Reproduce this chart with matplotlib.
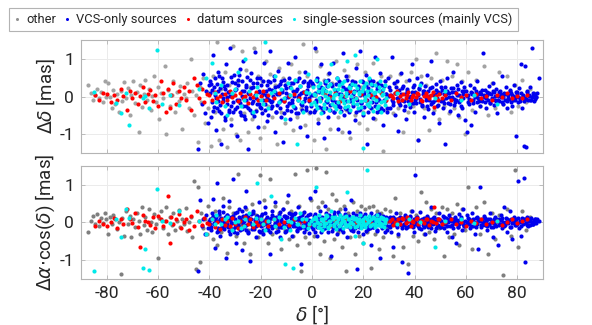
import matplotlib
matplotlib.use("Agg")
import matplotlib.pyplot as plt
from matplotlib.lines import Line2D

plt.rcParams['font.family'] = ['Roboto', 'DejaVu Sans']
plt.rcParams['mathtext.fontset'] = 'dejavusans'

categories = ["other", "VCS-only sources", "datum sources", "single-session sources (mainly VCS)"]
colors_top = ["#a3a3a3", "#0000ee", "#ff0000", "#00eaea"]
colors_bottom = ["#7f7f7f", "#0000ee", "#ff0000", "#00eaea"]
legend_colors = ["#909090", "#0000ee", "#ff0000", "#00eaea"]
x_ticks = [-80, -60, -40, -20, 0, 20, 40, 60, 80]
y_ticks = [-1, 0, 1]

# (declination [deg], delta_dec [mas], delta_ra*cos(dec) [mas])
other_pts = [
(-87.5,0.30,-0.25),(-86.0,0.10,0.05),(-85.2,-0.10,0.18),(-84.5,0.05,-0.05),(-83.8,0.20,0.22),(-83.0,-0.05,-0.10),(-82.3,0.12,0.12),(-81.5,-0.15,-0.02),(-80.8,0.42,0.25),(-80.2,-0.02,0.08),(-79.5,0.35,-0.30),(-78.8,0.00,0.15),(-78.0,-0.30,-0.05),(-77.4,0.18,0.20),(-76.8,-0.20,0.10),(-76.0,0.08,-0.18),(-75.3,-0.40,0.02),(-74.6,0.15,-1.38),(-74.0,-0.12,0.12),(-73.2,0.38,-0.35),(-72.5,-0.05,0.30),(-71.8,0.22,-0.05),(-71.0,-0.50,0.18),(-70.4,0.05,-0.40),(-69.7,0.40,0.10),(-69.0,-0.18,-0.12),(-68.3,0.12,0.25),(-67.6,-0.95,0.05),(-67.0,0.30,-0.30),(-66.3,-0.28,0.40),(-65.6,0.08,-0.08),(-65.0,0.45,0.15),(-64.3,-0.10,-0.20),(-63.6,0.20,0.35),(-62.9,-0.35,0.02),(-62.2,0.02,-0.25),(-61.5,0.55,0.22),(-60.9,-0.15,-0.05),(-60.2,0.25,-0.95),(-59.5,-0.60,0.12),(-58.8,0.10,0.30),(-58.1,-0.05,-0.15),(-57.4,0.80,0.05),(-56.8,-1.00,0.40),(-56.1,0.18,-0.30),(-55.4,-0.25,0.15),(-54.7,0.05,-0.08),(-54.0,0.40,0.25),(-53.4,-0.40,-0.20),(-52.7,0.12,0.05),(-52.0,-0.12,0.32),(-51.3,0.28,-0.12),(-50.6,-0.85,0.10),(-50.0,0.08,-0.05),(-49.3,-0.05,0.38),(-48.6,0.35,-0.22),(-47.9,-0.30,0.02),(-47.2,1.00,0.15),(-46.6,0.15,-0.40),(-45.9,-0.50,1.10),(-45.2,0.05,-1.25),(-44.5,-1.20,0.95),(-43.8,0.25,-1.05),(-43.1,-0.15,0.25),(-42.4,0.48,-0.15),(-41.7,-0.70,0.08),(-41.0,0.12,-0.30),(-40.4,-0.30,0.45),
(-39.5,-1.30,0.10),(-38.7,0.55,-0.45),(-37.8,-0.40,0.30),(-37.0,1.45,-0.60),(-36.2,-1.15,0.20),(-35.4,0.20,-0.25),(-34.6,-0.85,0.65),(-33.8,0.65,-0.10),(-33.0,-1.35,-0.80),(-32.2,0.30,0.40),(-31.4,-0.60,-0.15),(-30.6,1.35,0.25),(-29.8,-1.00,-0.35),(-29.0,0.40,1.30),(-28.2,-1.15,-0.05),(-27.4,1.20,0.15),(-26.6,-0.45,-0.55),(-25.8,0.70,0.35),(-25.0,-0.95,-0.20),(-24.2,0.25,-0.85),(-23.4,-0.60,0.50),(-22.6,1.30,-0.10),(-21.8,-0.35,0.20),(-21.0,0.55,-0.40),(-20.2,-1.10,1.25),(-19.4,0.40,-0.25),(-18.6,-0.80,0.60),(-17.8,0.95,0.10),(-17.0,-0.25,-0.55),(-16.2,0.60,1.15),(-15.4,-0.55,-0.30),(-14.6,0.30,0.45),(-13.8,-1.25,-0.15),(-13.0,0.75,0.25),(-12.2,-0.40,-0.70),(-11.4,0.50,0.35),(-10.6,-0.70,-0.20),(-9.8,0.35,0.55),(-9.0,-0.20,-0.45),(-8.2,0.85,0.30),(-7.4,-0.90,-0.35),(-6.6,0.45,1.30),(-5.8,-0.55,-0.60),(-5.0,0.65,0.45),(-4.2,-0.30,-1.30),(-3.4,1.40,0.25),(-2.6,-0.75,-0.40),(-1.8,0.55,1.40),(-1.0,-0.45,-0.55),(-0.2,0.30,0.60),(0.6,-1.15,-0.35),(1.4,1.20,1.45),(2.2,-0.60,0.40),(3.0,0.80,-0.85),(3.8,-0.35,0.55),(4.6,0.45,-0.50),(5.4,-1.40,1.35),(6.2,0.60,0.35),(7.0,-0.85,-0.95),(7.8,0.35,0.75),(8.6,-0.25,-0.45),(9.4,0.95,0.60),(10.2,-0.55,-0.25),(11.0,0.30,0.35),(11.8,-0.95,-0.65),(12.6,0.70,0.45),(13.4,-0.35,-1.30),(14.2,0.55,0.25),(15.0,-1.10,-0.40),(15.8,0.40,0.55),(16.6,-0.50,-0.85),(17.4,0.85,0.30),(18.2,-0.70,-0.35),(19.0,0.25,0.45),(19.8,-0.40,-0.55),(20.6,0.65,0.35),(21.4,-0.85,-0.25),(22.2,0.45,0.40),(23.0,-0.30,-1.20),(23.8,0.90,0.45),(24.6,-0.60,-0.30),(25.4,0.35,0.30),(26.2,-0.25,-0.70),(27.0,0.55,0.25),(27.8,-1.45,-0.40),(28.6,0.40,0.35),(29.4,-0.35,-0.15),
(30.5,0.55,0.30),(31.5,-0.45,-0.90),(32.5,0.35,0.65),(33.5,-0.30,-0.35),(34.5,0.60,0.25),(35.5,-0.95,-0.65),(36.5,0.40,0.15),(37.5,-0.40,-1.10),(38.5,0.65,0.30),(39.5,-0.25,-0.35),(40.5,1.00,0.20),(41.5,-1.15,-0.50),(42.5,0.55,0.80),(43.5,-0.30,-0.30),(44.5,0.30,0.55),(45.5,-0.90,-0.25),(46.5,0.50,0.35),(47.5,-0.35,-0.45),(48.5,1.15,0.25),(49.5,-0.60,-0.15),(50.5,0.45,0.40),(51.5,-0.25,-0.90),(52.5,0.95,0.35),(53.5,-0.45,-0.40),(54.5,0.55,0.25),(55.5,-0.30,-0.30),(56.5,0.85,0.50),(57.5,-0.55,-0.60),(58.5,0.40,0.35),(59.5,-1.00,-0.20),(61.0,0.65,0.95),(62.5,-0.35,-0.70),(64.0,0.45,0.40),(65.5,-0.25,-0.30),(67.0,0.80,0.55),(68.5,-0.50,-0.85),(70.0,0.35,0.25),(71.5,-0.30,-0.45),(73.0,0.65,0.20),(74.5,-0.20,-1.40),(76.0,0.55,0.35),(77.5,-0.40,-0.35),(79.0,0.30,1.40),(80.5,-0.25,-0.65),(82.0,0.45,0.30),(83.5,-0.15,-0.20),(85.0,0.20,0.15),(86.5,0.10,0.05),
]

vcs_pts = [
(-44.5,-1.40,-1.30),(-43.8,0.35,0.60),(-43.0,-0.20,-0.10),(-42.4,0.60,0.10),(-41.7,-0.45,-0.30),(-41.2,0.15,0.20),(-40.6,-0.70,-0.15),(-40.2,0.30,0.05),
(-39.8,0.42,0.08),(-39.4,-0.55,-0.12),(-39.0,0.18,0.25),(-38.7,1.10,0.62),(-38.3,-0.28,-0.05),(-37.9,0.05,-0.68),(-37.6,-0.90,0.15),(-37.2,0.33,1.05),(-36.8,-0.12,-0.22),(-36.5,0.65,0.04),(-36.1,-0.38,0.30),(-35.8,0.22,-0.35),(-35.4,-1.25,0.11),(-35.0,0.50,-0.08),(-34.7,-0.05,0.45),(-34.3,0.28,-0.18),(-33.9,-0.62,0.02),(-33.6,0.85,-0.95),(-33.2,-0.20,0.20),(-32.8,0.12,-0.12),(-32.5,-0.40,0.58),(-32.1,1.30,0.07),(-31.8,0.02,-0.30),(-31.4,-0.75,0.15),(-31.0,0.38,-0.02),(-30.7,-0.15,1.15),(-30.3,0.58,-0.25),(-30.0,-0.32,0.10),(-29.6,0.20,-0.55),(-29.2,-1.05,0.28),(-28.9,0.45,-0.10),(-28.5,-0.08,0.35),(-28.1,0.72,-0.15),(-27.8,-0.48,0.05),(-27.4,0.15,-0.72),(-27.0,-0.25,0.18),(-26.7,0.95,-0.05),(-26.3,-0.60,0.40),(-25.9,0.30,-0.20),(-25.6,-0.10,0.85),(-25.2,0.52,0.12),(-24.8,-1.38,-0.28),(-24.5,0.08,0.03),(-24.1,-0.35,-1.02),(-23.7,0.62,0.22),(-23.4,-0.18,-0.08),(-23.0,0.25,0.30),(-22.6,-0.52,-0.18),(-22.3,1.18,0.09),(-21.9,-0.05,-0.40),(-21.5,0.35,0.16),(-21.2,-0.82,-0.02),(-20.8,0.12,0.55),(-20.4,-0.28,-0.25),(-20.1,0.48,0.06),
(-39.6,0.10,-0.05),(-38.9,-0.15,0.12),(-38.1,0.25,-0.02),(-37.4,-0.05,0.05),(-36.6,0.15,-0.15),(-35.9,-0.22,0.08),(-35.2,0.08,0.00),(-34.5,-0.12,-0.10),(-33.8,0.20,0.15),(-33.0,-0.02,-0.05),(-32.3,0.12,0.10),(-31.6,-0.25,-0.02),(-30.9,0.05,0.18),(-30.2,0.18,-0.12),(-29.4,-0.10,0.02),(-28.7,0.30,-0.08),(-28.0,-0.18,0.10),(-27.2,0.02,-0.18),(-26.5,0.14,0.05),(-25.8,-0.25,-0.06),(-25.0,0.10,0.14),(-24.3,-0.05,-0.02),(-23.6,0.22,0.08),(-22.9,-0.12,-0.12),(-22.1,0.05,0.03),(-21.4,-0.20,0.12),(-20.6,0.15,-0.05),
(-39.2,0.32,-0.20),(-38.5,-0.38,0.18),(-37.7,0.48,0.10),(-36.9,-0.30,-0.25),(-36.1,0.55,0.22),(-35.3,-0.45,-0.15),(-34.6,0.38,0.28),(-33.8,-0.55,-0.08),(-33.1,0.30,0.20),(-32.4,-0.35,-0.22),(-31.7,0.52,0.12),(-30.9,-0.42,-0.18),(-30.1,0.35,0.25),(-29.4,-0.28,-0.28),(-28.6,0.58,0.15),(-27.9,-0.40,-0.20),(-27.1,0.42,0.30),(-26.4,-0.52,-0.12),(-25.7,0.25,0.20),(-24.9,-0.30,-0.25),(-24.2,0.45,0.10),(-23.5,-0.45,-0.18),(-22.8,0.35,0.25),(-22.0,-0.38,-0.10),(-21.3,0.50,0.18),(-20.5,-0.20,-0.22),
(-19.8,0.30,-0.10),(-19.4,-0.45,0.22),(-19.0,0.10,-0.30),(-18.7,0.88,0.05),(-18.3,-0.20,0.40),(-17.9,0.05,-0.05),(-17.6,-0.65,0.15),(-17.2,0.40,-0.20),(-16.8,-0.08,0.02),(-16.5,1.20,-0.85),(-16.1,-0.30,0.12),(-15.7,0.18,0.30),(-15.4,-0.12,-0.15),(-15.0,0.55,0.08),(-14.6,-0.95,-0.02),(-14.3,0.25,0.55),(-13.9,-0.40,-0.25),(-13.5,0.08,0.10),(-13.2,0.68,-0.05),(-12.8,-0.15,0.20),(-12.4,0.32,-0.40),(-12.1,-0.55,0.05),(-11.7,0.12,-0.12),(-11.3,-1.20,0.35),(-11.0,0.45,-0.08),(-10.6,-0.05,0.18),(-10.2,0.22,-0.22),(-9.9,-0.35,0.00),(-9.5,0.90,0.72),(-9.1,-0.18,-0.15),(-8.8,0.05,0.25),(-8.4,-0.60,-0.05),(-8.0,0.35,0.12),(-7.7,-0.10,-0.35),(-7.3,0.15,0.05),(-6.9,-0.28,0.22),(-6.6,1.05,-0.10),(-6.2,-0.45,0.08),(-5.8,0.20,-0.20),(-5.5,-0.02,0.40),(-5.1,0.50,-0.02),(-4.7,-0.80,0.15),(-4.4,0.10,-1.10),(-4.0,-0.22,0.05),(-3.6,0.38,-0.12),(-3.3,-0.12,0.28),(-2.9,0.65,0.02),(-2.5,-0.35,-0.18),(-2.2,0.08,0.10),(-1.8,-1.05,-0.05),(-1.4,0.28,0.20),(-1.1,-0.05,-0.28),(-0.7,0.42,0.65),(-0.3,-0.25,0.02),
(-19.6,0.05,0.02),(-18.9,-0.10,-0.08),(-18.1,0.15,0.10),(-17.4,-0.05,-0.02),(-16.6,0.20,0.06),(-15.9,-0.15,-0.10),(-15.2,0.02,0.15),(-14.4,0.12,-0.05),(-13.7,-0.22,0.04),(-13.0,0.06,-0.12),(-12.2,-0.08,0.08),(-11.5,0.18,0.00),(-10.8,-0.12,-0.06),(-10.0,0.10,0.12),(-9.3,-0.02,-0.10),(-8.6,0.25,0.02),(-7.8,-0.18,0.14),(-7.1,0.02,-0.04),(-6.4,0.15,0.08),(-5.6,-0.10,-0.12),(-4.9,0.05,0.04),(-4.2,-0.20,0.10),(-3.4,0.12,-0.06),(-2.7,-0.05,0.02),(-2.0,0.18,-0.10),(-1.2,-0.12,0.06),(-0.5,0.04,-0.02),
(-19.9,-0.30,0.18),(-19.2,0.42,-0.20),(-18.4,-0.35,0.25),(-17.7,0.30,-0.15),(-17.0,-0.48,0.10),(-16.3,0.38,-0.25),(-15.5,-0.25,0.20),(-14.8,0.45,-0.10),(-14.1,-0.40,0.15),(-13.3,0.28,-0.22),(-12.6,-0.30,0.28),(-11.9,0.40,-0.12),(-11.1,-0.45,0.18),(-10.4,0.30,-0.25),(-9.7,-0.25,0.15),(-8.9,0.48,-0.18),(-8.2,-0.38,0.22),(-7.5,0.35,-0.10),(-6.7,-0.30,0.25),(-6.0,0.42,-0.22),(-5.3,-0.45,0.12),(-4.6,0.28,-0.15),(-3.8,-0.35,0.20),(-3.1,0.40,-0.25),(-2.4,-0.28,0.15),(-1.6,0.35,-0.12),(-0.9,-0.42,0.22),
(0.2,0.35,-0.12),(0.6,-0.42,0.18),(1.0,0.10,-0.25),(1.3,1.30,0.85),(1.7,-0.15,0.05),(2.1,0.50,-0.35),(2.4,-0.70,0.10),(2.8,0.22,-0.02),(3.2,-0.05,0.30),(3.5,0.85,-0.08),(3.9,-0.30,0.15),(4.3,0.15,-0.18),(4.6,-1.10,0.02),(5.0,0.40,0.45),(5.4,-0.12,-0.10),(5.7,0.28,0.08),(6.1,-0.55,-0.25),(6.5,0.05,0.20),(6.8,0.62,-0.05),(7.2,-0.22,0.12),(7.6,0.32,-0.88),(7.9,-0.08,0.02),(8.3,0.90,-0.15),(8.7,-0.40,0.28),(9.0,0.18,-0.05),(9.4,-0.15,0.10),(9.8,0.48,-0.30),(10.1,-0.85,0.05),(10.5,0.08,0.22),(10.9,-0.28,-0.12),(11.2,0.36,0.02),(11.6,-0.02,-0.20),(12.0,1.15,0.15),(12.3,-0.50,-0.02),(12.7,0.20,0.35),(13.1,-0.12,-0.08),(13.4,0.55,0.10),(13.8,-0.32,-0.40),(14.2,0.10,0.05),(14.5,-0.95,0.18),(14.9,0.30,-0.15),(15.3,-0.05,0.60),(15.6,0.42,0.00),(16.0,-0.20,-0.22),(16.4,0.15,0.12),(16.7,-0.62,-0.05),(17.1,0.75,0.20),(17.5,-0.10,-1.25),(17.8,0.25,0.08),(18.2,-0.35,-0.12),(18.6,0.05,0.25),(18.9,1.22,-0.02),(19.3,-0.18,0.15),(19.7,0.38,-0.30),(20.0,-0.48,0.05),(20.4,0.12,-0.10),(20.8,-0.08,0.22),(21.1,0.58,-0.05),(21.5,-1.25,0.10),(21.9,0.22,-0.18),(22.2,-0.25,0.02),(22.6,0.45,0.18),(23.0,-0.02,-0.60),(23.3,0.30,0.05),(23.7,-0.58,-0.12),(24.1,0.10,0.14),(24.4,1.05,-0.02),(24.8,-0.15,0.20),(25.2,0.20,-0.22),(25.5,-0.42,0.08),(25.9,0.35,-0.05),(26.3,-0.08,0.12),(26.6,0.62,-0.95),(27.0,-0.30,0.02),(27.4,0.15,-0.15),(27.7,-0.75,0.10),(28.1,0.28,0.05),(28.5,-0.12,-0.08),(28.8,0.08,0.15),(29.2,-0.40,-0.20),(29.6,0.50,0.03),
(0.4,0.05,0.02),(1.5,-0.10,-0.06),(2.6,0.12,0.08),(3.7,-0.05,-0.04),(4.8,0.18,0.10),(5.9,-0.15,-0.02),(7.0,0.02,0.06),(8.1,-0.08,-0.10),(9.2,0.14,0.00),(10.3,-0.20,0.08),(11.4,0.06,-0.05),(12.5,-0.02,0.12),(13.6,0.20,-0.08),(14.7,-0.12,0.04),(15.8,0.08,-0.12),(16.9,-0.05,0.05),(18.0,0.16,0.10),(19.1,-0.18,-0.04),(20.2,0.04,0.08),(21.3,-0.08,-0.10),(22.4,0.12,0.02),(23.5,-0.15,0.06),(24.6,0.02,-0.06),(25.7,-0.06,0.10),(26.8,0.15,-0.02),(27.9,-0.10,0.04),(29.0,0.06,-0.08),
(0.5,0.30,-0.18),(1.2,-0.35,0.22),(2.0,0.40,-0.12),(2.7,-0.28,0.18),(3.4,0.25,-0.25),(4.2,-0.40,0.12),(4.9,0.35,-0.15),(5.6,-0.30,0.25),(6.3,0.45,-0.10),(7.1,-0.35,0.15),(7.8,0.28,-0.22),(8.5,-0.42,0.20),(9.3,0.32,-0.12),(10.0,-0.25,0.28),(10.7,0.40,-0.18),(11.5,-0.38,0.10),(12.2,0.25,-0.25),(12.9,-0.30,0.22),(13.7,0.45,-0.10),(14.4,-0.42,0.15),(15.1,0.30,-0.20),(15.9,-0.25,0.25),(16.6,0.38,-0.15),(17.3,-0.40,0.12),(18.1,0.28,-0.25),(18.8,-0.32,0.20),(19.5,0.42,-0.10),(20.3,-0.28,0.18),(21.0,0.30,-0.22),(21.7,-0.42,0.12),(22.5,0.35,-0.15),(23.2,-0.30,0.25),(23.9,0.40,-0.12),(24.7,-0.25,0.15),(25.4,0.28,-0.20),(26.1,-0.38,0.22),(26.9,0.30,-0.10),(27.6,-0.35,0.18),(28.3,0.42,-0.25),(29.1,-0.30,0.12),
(30.0,0.25,-0.10),(30.4,-0.30,0.15),(30.8,0.05,-0.25),(31.1,1.05,0.05),(31.5,-0.15,-0.65),(31.9,0.35,0.10),(32.2,-0.50,-0.02),(32.6,0.10,0.25),(33.0,-0.05,-0.12),(33.3,0.40,0.08),(33.7,-0.92,-0.30),(34.1,0.18,0.02),(34.4,-0.22,0.15),(34.8,0.62,-0.08),(35.2,-0.08,-1.05),(35.5,0.28,0.12),(35.9,-0.35,-0.05),(36.3,0.08,0.20),(36.6,-0.60,-0.15),(37.0,0.20,0.05),(37.4,-0.12,-1.35),(37.7,0.45,-0.10),(38.1,-0.28,0.18),(38.5,0.02,-0.02),(38.8,0.85,0.30),(39.2,-0.18,-0.12),(39.6,0.30,0.08),(39.9,-0.40,-0.25),(40.3,0.12,1.25),(40.7,-0.05,-0.05),(41.0,0.50,0.15),(41.4,-1.15,-0.10),(41.8,0.22,0.02),(42.1,-0.15,0.28),(42.5,0.35,-0.18),(42.9,-0.25,0.05),(43.2,0.08,-0.08),(43.6,-0.55,0.12),(44.0,0.28,-0.30),(44.3,-0.02,0.02),(44.7,0.58,0.18),(45.1,-0.32,-0.12),(45.4,0.15,0.05),(45.8,-0.10,-0.02),(46.2,0.95,0.40),(46.5,-0.20,-0.15),(46.9,0.25,0.08),(47.3,-0.45,-0.05),(47.6,0.05,0.15),(48.0,-0.08,-0.22),(48.4,0.32,0.02),(48.7,-0.25,0.10),(49.1,0.12,-0.08),(49.5,-0.70,0.25),(49.8,0.40,-0.12),(50.2,-0.12,0.05),(50.6,0.18,-0.02),(50.9,-0.30,0.18),(51.3,0.08,-0.15),(51.7,-1.25,0.08),(52.0,0.25,-0.05),(52.4,-0.05,0.12),(52.8,0.48,-0.25),(53.1,-0.18,0.02),(53.5,0.10,0.20),(53.9,-0.38,-0.10),(54.2,0.22,0.05),(54.6,-0.02,-0.40),(55.0,0.65,0.10),(55.3,-0.22,-0.02),(55.7,0.12,0.15),(56.1,-0.10,-0.55),(56.4,0.30,0.06),(56.8,-0.48,-0.12),(57.2,0.05,0.22),(57.5,-0.15,-0.05),(57.9,0.38,0.10),(58.3,-0.30,-0.20),(58.6,0.15,0.02),(59.0,-0.05,0.35),(59.4,0.25,-0.10),(59.7,-0.62,0.05),
(30.2,0.02,0.03),(31.3,-0.08,-0.05),(32.4,0.10,0.08),(33.5,-0.04,-0.02),(34.6,0.06,0.06),(35.7,-0.12,-0.08),(36.8,0.08,0.02),(37.9,-0.02,0.10),(39.0,0.12,-0.04),(40.1,-0.10,0.04),(41.2,0.04,-0.08),(42.3,-0.06,0.06),(43.4,0.14,0.00),(44.5,-0.08,-0.06),(45.6,0.02,0.08),(46.7,-0.14,-0.02),(47.8,0.08,0.04),(48.9,-0.04,-0.08),(50.0,0.10,0.06),(51.1,-0.10,-0.04),(52.2,0.06,0.02),(53.3,-0.02,0.08),(54.4,0.12,-0.06),(55.5,-0.06,0.04),(56.6,0.04,-0.02),(57.7,-0.10,0.06),(58.8,0.08,-0.04),
(30.6,0.18,-0.12),(31.7,-0.22,0.15),(32.8,0.25,-0.08),(33.9,-0.18,0.12),(35.0,0.22,-0.15),(36.1,-0.25,0.10),(37.2,0.15,-0.12),(38.3,-0.20,0.15),(39.4,0.25,-0.10),(40.5,-0.18,0.12),(41.6,0.20,-0.15),(42.7,-0.22,0.08),(43.8,0.15,-0.12),(44.9,-0.25,0.15),(46.0,0.22,-0.08),(47.1,-0.15,0.12),(48.2,0.18,-0.15),(49.3,-0.22,0.10),(50.4,0.25,-0.12),(51.5,-0.18,0.15),(52.6,0.15,-0.10),(53.7,-0.20,0.12),(54.8,0.22,-0.15),(55.9,-0.15,0.08),(57.0,0.20,-0.12),(58.1,-0.25,0.15),(59.2,0.15,-0.10),
(60.1,0.15,-0.08),(60.5,-0.95,0.20),(60.9,0.05,-0.02),(61.2,-0.20,0.10),(61.6,0.30,-0.15),(62.0,-0.75,0.05),(62.3,0.10,0.25),(62.7,-0.08,-0.10),(63.1,0.22,0.02),(63.4,-0.40,-0.30),(63.8,0.02,0.12),(64.2,-0.15,-0.05),(64.5,0.40,0.15),(64.9,-0.05,-0.70),(65.3,0.12,0.05),(65.6,-0.25,0.95),(66.0,0.08,-0.12),(66.4,-0.12,0.08),(66.7,1.15,-0.02),(67.1,-0.02,0.18),(67.5,0.18,-0.08),(67.8,-0.30,0.03),(68.2,0.05,-0.20),(68.6,-0.10,0.10),(68.9,0.28,-0.05),(69.3,-0.18,0.25),(69.7,0.08,-0.12),(70.0,-0.05,0.02),(70.4,0.35,-0.40),(70.8,-0.22,0.08),(71.1,0.12,-0.02),(71.5,-0.08,0.15),(71.9,0.20,-0.10),(72.2,-0.45,0.05),(72.6,0.02,-0.60),(73.0,-0.12,0.10),(73.3,0.15,-0.05),(73.7,-0.02,0.20),(74.1,0.55,-0.15),(74.4,-0.20,0.02),(74.8,0.08,0.40),(75.2,-0.10,-0.08),(75.5,0.25,0.12),(75.9,-0.30,-0.25),(76.3,0.05,0.05),(76.6,-0.05,-0.02),(77.0,0.18,0.30),(77.4,-0.15,-0.12),(77.7,0.10,0.08),(78.1,-0.25,-0.45),(78.5,0.02,0.02),(78.8,0.30,0.15),(79.2,-0.08,-0.08),(79.6,-1.05,0.10),(79.9,0.12,-0.02),(80.3,-0.02,1.10),(80.7,0.22,-0.15),(81.0,-0.12,0.05),(81.4,0.85,-0.35),(81.8,-0.30,0.12),(82.1,0.05,-0.05),(82.5,-1.30,1.18),(82.9,0.80,-1.05),(83.2,-0.05,0.08),(83.6,-1.35,-0.02),(84.0,0.15,0.15),(84.3,-0.10,-0.10),(84.7,0.02,0.05),(85.1,0.25,-0.08),(85.4,-0.08,0.12),(85.8,1.28,0.02),(86.2,0.05,-0.05),(86.5,-0.12,0.06),(86.9,0.08,0.10),(87.3,-0.02,-0.02),(87.7,0.10,0.08),(88.3,0.50,0.05),
(60.3,0.02,0.02),(61.4,-0.06,-0.04),(62.5,0.08,0.06),(63.6,-0.02,-0.02),(64.7,0.06,0.04),(65.8,-0.08,-0.06),(66.9,0.04,0.02),(68.0,-0.04,0.06),(69.1,0.10,-0.04),(70.2,-0.06,0.04),(71.3,0.02,-0.06),(72.4,-0.10,0.02),(73.5,0.06,0.06),(74.6,-0.02,-0.04),(75.7,0.08,0.02),(76.8,-0.06,0.06),(77.9,0.04,-0.02),(79.0,-0.02,0.04),(80.1,0.06,-0.04),(81.2,-0.04,0.02),(82.3,0.02,0.06),(83.4,-0.06,-0.02),(84.5,0.04,0.04),(85.6,-0.02,-0.04),(86.7,0.04,0.02),(87.5,0.00,0.06),
(60.7,-0.15,0.12),(61.8,0.12,-0.10),(62.9,-0.18,0.08),(64.0,0.15,-0.12),(65.1,-0.12,0.10),(66.2,0.18,-0.08),(67.3,-0.15,0.12),(68.4,0.12,-0.10),(69.5,-0.18,0.08),(70.6,0.15,-0.12),(71.7,-0.12,0.10),(72.8,0.12,-0.08),(73.9,-0.15,0.12),(75.0,0.10,-0.10),(76.1,-0.12,0.08),(77.2,0.15,-0.12),(78.3,-0.10,0.10),(79.4,0.12,-0.08),(80.5,-0.15,0.12),(81.6,0.10,-0.10),(82.7,-0.12,0.08),(83.8,0.12,-0.06),(84.9,-0.08,0.10),(86.0,0.10,-0.05),(87.1,-0.06,0.08),
]

datum_pts = [
(-84.5,0.05,-0.10),(-83.0,-0.10,0.05),(-81.5,0.10,-0.05),(-80.0,0.08,-0.10),(-78.5,-0.15,0.00),(-77.0,0.05,0.12),(-76.0,-0.10,-0.15),(-74.5,0.20,0.08),(-73.5,0.02,-0.05),(-72.0,-0.35,0.35),(-71.0,0.15,0.10),(-70.0,-0.05,-0.02),(-69.0,0.10,0.25),(-68.0,-0.20,-0.12),(-67.0,0.02,-0.65),(-66.0,0.25,0.20),(-65.0,-0.15,0.05),(-64.0,0.08,0.02),(-63.0,0.18,-0.08),(-62.0,-0.12,0.15),(-61.0,0.05,-0.15),(-60.0,-0.25,0.18),(-59.0,0.40,0.10),(-58.0,0.10,-0.10),(-57.0,-0.40,0.05),(-56.0,0.20,0.70),(-55.5,-0.30,-0.55),(-55.0,0.05,0.15),(-54.0,0.35,-0.05),(-53.0,-0.20,0.08),(-52.0,0.15,0.22),(-51.0,-0.05,-0.15),(-50.0,0.25,0.02),(-49.0,-0.10,0.10),(-48.0,0.15,-0.20),(-47.0,-0.35,0.18),(-46.0,0.50,-0.10),(-45.0,0.30,0.30),(-44.0,-0.05,0.05),(-43.0,0.20,-0.08),(-42.0,-0.15,0.12),(-41.0,0.08,-0.02),
(-40.0,0.05,-0.05),(-39.0,-0.10,0.08),(-38.0,0.12,-0.12),(-37.0,-0.05,0.02),(-36.0,0.02,-0.18),(-35.0,-0.15,0.10),(-34.0,0.08,-0.08),(-33.0,-0.08,0.05),(-32.0,0.15,-0.10),(-31.0,-0.02,0.12),(-30.0,0.05,-0.05),(-29.0,-0.12,-0.15),(-28.0,0.10,0.05),(-27.0,-0.05,-0.10),(-26.0,0.02,0.15),(-25.0,-0.18,-0.05),(-24.0,0.08,0.08),(-23.0,-0.02,-0.12),(-22.0,0.12,0.02),(-21.0,-0.08,-0.08),(-20.0,0.02,0.10),(-19.0,0.15,-0.05),(-18.0,-0.10,0.05),(-17.0,0.05,-0.10),(-15.0,-0.05,0.08),(-13.0,0.10,-0.05),(-11.0,-0.12,0.02),(-9.0,0.02,-0.08),(-7.0,0.08,0.10),(-5.0,-0.05,-0.02),(-3.0,0.12,0.05),(-1.0,-0.08,-0.06),(1.0,0.05,0.08),(3.0,-0.10,-0.05),(5.0,0.08,0.02),(7.0,-0.02,-0.10),(9.0,0.10,0.05),(11.0,-0.12,-0.02),(13.0,0.02,0.08),(15.0,0.15,-0.05),(17.0,-0.05,0.02),(19.0,0.08,-0.08),(21.0,-0.10,0.05),(23.0,0.05,-0.02),(25.0,-0.02,0.10),(27.0,0.10,-0.05),(29.0,-0.08,0.02),
(30.5,0.05,0.05),(31.5,-0.05,-0.08),(32.5,0.10,0.02),(33.5,-0.12,0.10),(34.5,0.02,-0.05),(35.5,0.08,0.08),(36.5,-0.05,-0.02),(37.5,0.12,0.05),(38.5,-0.10,-0.10),(39.5,0.05,0.02),(40.5,-0.02,0.08),(41.5,0.08,-0.05),(42.5,-0.08,0.05),(43.5,0.02,-0.02),(44.5,0.10,0.10),(45.5,-0.05,-0.08),(46.5,0.05,0.05),(47.5,-0.28,0.42),(48.5,0.02,-0.02),(49.5,0.08,0.08),(50.5,-0.05,-0.05),(52.0,0.05,0.02),(54.0,-0.08,0.08),(56.0,0.10,-0.05),(58.0,-0.02,0.02),(60.0,0.05,-0.10),(62.0,-0.10,0.05),(64.0,0.08,-0.02),(66.0,-0.05,0.08),(68.0,0.02,-0.05),(70.0,-0.08,0.02),(72.0,0.05,0.05),(74.0,-0.02,-0.08),(76.0,0.10,0.02),(78.0,-0.05,0.10),(80.0,0.02,-0.02),(82.0,-0.05,0.05),(84.0,0.05,0.08),
(31.0,0.02,0.10),(33.0,0.15,-0.02),(35.0,-0.08,0.12),(37.0,0.05,0.15),(39.0,-0.02,0.05),(41.0,0.10,0.12),(43.0,-0.12,0.05),(45.0,0.02,0.10),(47.0,0.12,0.02),(49.0,-0.10,0.08),
]

single_pts = [
(-84.8,0.12,-1.30),(-76.5,-0.18,0.08),(-74.5,-0.45,-0.40),(-72.5,0.10,0.35),(-71.5,-0.75,0.12),(-66.0,-0.05,-1.22),(-65.0,0.02,-0.70),(-63.5,-0.30,-1.27),(-60.5,1.23,0.90),(-58.5,-0.20,0.05),(-55.5,0.05,-0.02),(-52.0,-0.22,0.30),
(-44.0,0.20,0.05),(-41.5,0.50,-0.30),(-39.0,0.90,0.10),(-37.5,-0.15,0.20),(-35.5,0.30,-0.05),(-33.0,-0.50,0.15),(-31.0,0.10,-0.20),(-29.0,0.65,0.05),(-27.5,-0.25,-0.15),(-26.0,1.00,0.10),(-24.5,0.15,0.25),(-23.0,-0.40,-0.05),(-21.5,0.25,1.05),(-20.0,-0.10,0.10),(-18.5,1.45,-0.20),(-17.0,-0.30,0.05),(-16.0,0.10,0.70),(-14.5,0.55,-0.10),(-13.0,-0.15,0.15),(-12.0,0.20,-0.45),(-10.5,-0.60,-1.10),(-9.5,0.35,0.05),(-8.5,0.05,-0.20),(-7.5,-0.25,-1.20),(-6.5,0.45,0.12),(-6.0,-1.25,-0.05),(-5.5,-0.10,-0.05),(-4.5,0.28,0.25),(-3.5,-0.40,-0.10),(-2.5,0.12,0.08),(-1.5,0.60,-0.15),(-0.5,-0.20,0.05),
(-38.0,0.10,-0.05),(-34.0,-0.25,0.10),(-30.0,0.20,0.02),(-26.5,-0.10,-0.10),(-22.0,0.05,0.12),(-19.0,-0.20,-0.05),(-15.0,0.15,0.08),(-11.0,-0.05,-0.12),(-8.0,0.22,0.02),(-4.0,-0.15,0.10),(-1.0,0.10,-0.05),
(0.3,0.25,0.10),(0.8,-0.15,-0.08),(1.2,0.05,0.15),(1.6,0.45,0.95),(2.0,-0.30,0.02),(2.4,0.15,-0.12),(2.8,-0.05,0.20),(3.2,0.35,-0.05),(3.6,-0.45,0.08),(4.0,0.10,-0.20),(4.4,0.22,0.05),(4.8,-0.20,-0.10),(5.2,0.02,0.12),(5.6,0.40,-0.02),(6.0,-0.10,0.18),(6.4,0.28,-0.15),(6.8,-0.35,0.05),(7.2,0.12,-0.08),(7.6,0.85,0.30),(8.0,-0.05,0.10),(8.4,0.20,-0.05),(8.8,-0.25,0.15),(9.2,0.08,-0.18),(9.6,0.50,0.02),(10.0,-0.15,0.08),(10.4,0.30,-0.10),(10.8,-0.40,0.20),(11.2,0.05,-0.02),(11.6,0.18,0.12),(12.0,-0.08,-0.15),(12.4,0.42,0.05),(12.8,-0.28,-0.05),(13.2,0.10,0.18),(13.6,0.95,0.80),(14.0,-0.12,-0.08),(14.4,0.25,0.10),(14.8,-0.35,-0.12),(15.2,0.02,0.02),(15.6,0.32,0.15),(16.0,-0.18,-0.05),(16.4,0.12,0.08),(16.8,1.10,-0.35),(17.2,-0.05,0.12),(17.6,0.22,-0.10),(18.0,-0.30,0.05),(18.4,0.08,-0.02),(18.8,0.40,0.20),(19.2,-0.12,-0.15),(19.6,0.15,0.05),(19.9,-1.37,-0.55),(20.0,-0.45,0.10),(20.4,0.28,-0.08),(20.8,-0.02,0.15),(21.2,0.35,-0.05),(21.6,-0.20,1.40),(22.0,0.05,0.02),(22.4,0.50,0.18),(22.8,-0.15,-0.10),(23.2,0.18,0.08),(23.6,-0.38,-0.05),(24.0,0.10,0.12),(24.4,0.30,-0.12),(24.8,-0.08,0.05),(25.2,1.00,0.20),(25.6,-0.25,-0.08),(26.0,0.15,0.10),(26.4,0.42,-0.02),(26.8,-0.42,0.15),(27.2,0.05,-0.05),(27.6,0.20,0.08),(28.0,-0.12,-0.12),(28.5,0.30,0.05),(29.0,-0.05,0.10),
(0.6,0.08,-0.05),(1.4,-0.22,0.08),(2.2,0.28,-0.02),(3.0,-0.12,-0.15),(3.8,0.18,0.10),(4.6,-0.30,-0.05),(5.4,0.15,0.20),(6.2,-0.05,-0.12),(7.0,0.32,0.05),(7.8,-0.20,0.15),(8.6,0.05,-0.10),(9.4,-0.32,0.02),(10.2,0.20,0.12),(11.0,-0.05,-0.08),(11.8,0.35,0.05),(12.6,-0.18,0.15),(13.4,0.02,-0.10),(14.2,-0.25,0.08),(15.0,0.22,-0.02),(15.8,-0.08,0.15),(16.6,0.30,-0.12),(17.4,-0.20,0.05),(18.2,0.12,0.10),(19.0,-0.28,-0.08),(19.8,0.22,0.02),(20.6,-0.10,-0.12),(21.4,0.15,0.10),(22.2,-0.25,0.05),(23.0,0.32,-0.08),(23.8,-0.05,0.15),(24.6,0.12,-0.05),(25.4,-0.30,0.08),(26.2,0.25,0.02),(27.0,-0.15,-0.10),(27.8,0.08,0.12),(28.6,-0.22,-0.02),
(33.0,0.10,-0.05),(38.0,-0.20,0.10),(42.0,0.30,0.02),(48.0,-0.05,-0.65),(52.0,0.15,0.05),(58.0,-0.10,0.08),(63.0,0.05,-0.02),(72.0,-0.20,0.05),
]

series = [other_pts, vcs_pts, datum_pts, single_pts]

fig = plt.figure(figsize=(5.92, 3.25), dpi=100)
ax1 = fig.add_axes([0.137, 0.529, 0.780, 0.348])
ax2 = fig.add_axes([0.137, 0.142, 0.780, 0.347])

spine_c = "#b4b4b4"
text_c = "#262626"
for ax in (ax1, ax2):
    ax.set_xlim(-90, 90)
    ax.set_ylim(-1.5, 1.5)
    ax.set_xticks(x_ticks)
    ax.set_yticks(y_ticks)
    ax.grid(True, color="#ebebeb", linewidth=0.7)
    ax.set_axisbelow(True)
    for s in ax.spines.values():
        s.set_color(spine_c)
        s.set_linewidth(0.8)
    ax.tick_params(direction="in", length=3, width=0.6, color=spine_c,
                   labelcolor=text_c, labelsize=12.5, top=True, right=True, pad=5)

ax1.set_xticklabels([])
ax2.set_xticklabels([str(t) for t in x_ticks])
ax1.set_yticklabels([str(t) for t in y_ticks])
ax2.set_yticklabels([str(t) for t in y_ticks])

for pts, ct, cb in zip(series, colors_top, colors_bottom):
    dec = [p[0] for p in pts]
    dd = [p[1] for p in pts]
    da = [p[2] for p in pts]
    ax1.scatter(dec, dd, s=9, color=ct, linewidths=0, zorder=3)
    ax2.scatter(dec, da, s=9, color=cb, linewidths=0, zorder=3)

ax1.set_ylabel(r"$\Delta\delta$ [mas]", fontsize=13.5, color=text_c)
ax2.set_ylabel(r"$\Delta\alpha{\cdot}$cos($\delta$) [mas]", fontsize=13.5, color=text_c)
ax2.set_xlabel(r"$\delta$ [°]", fontsize=13.5, color=text_c, labelpad=2)
ax1.yaxis.set_label_coords(-0.052, 0.5)
ax2.yaxis.set_label_coords(-0.052, 0.5)

handles = [Line2D([], [], linestyle="none", marker="o", markersize=2.2,
                  markerfacecolor=c, markeredgewidth=0) for c in legend_colors]
leg = fig.legend(handles, categories, loc="center", bbox_to_anchor=(0.445, 0.94),
                 ncol=4, frameon=True, fancybox=False, fontsize=9.3,
                 handlelength=0.5, handletextpad=0.45, columnspacing=0.6,
                 borderpad=0.4, borderaxespad=0)
leg.get_frame().set_edgecolor("#a0a0a0")
leg.get_frame().set_linewidth(0.8)
for t in leg.get_texts():
    t.set_color(text_c)

fig.savefig("out.png", dpi=100)
